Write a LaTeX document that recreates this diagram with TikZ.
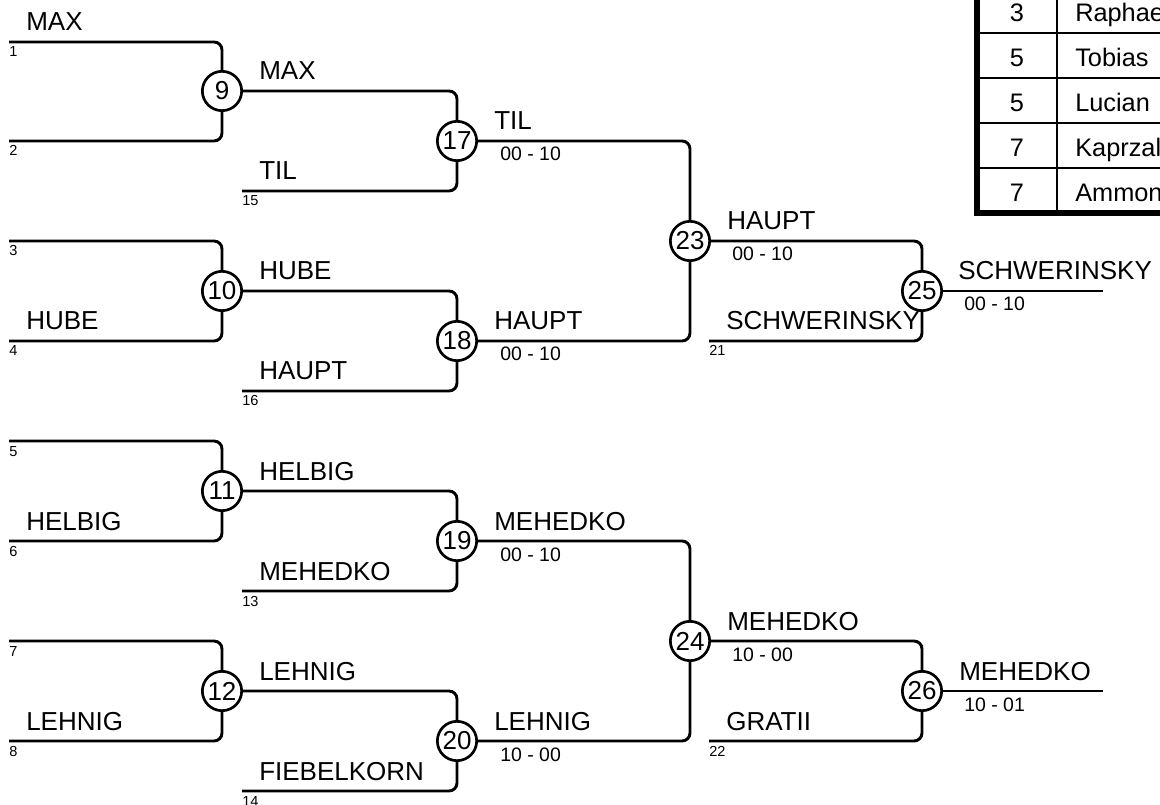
\documentclass[tikz,border=0pt]{standalone}
\usepackage{fontspec}
\setmainfont{Liberation Sans}
\begin{document}
\begin{tikzpicture}[x=0.75pt,y=-0.75pt]
\tikzset{
 bline/.style={line width=2.2pt, rounded corners=6pt},
 rnd/.style={circle, draw, line width=2pt, inner sep=0pt, minimum size=29.5pt, font=\fontsize{19.5}{20}\selectfont, fill=white},
 pname/.style={anchor=base west, inner sep=0pt, font=\fontsize{19.5}{22}\selectfont},
 pscore/.style={anchor=base west, inner sep=0pt, font=\fontsize{14.6}{16}\selectfont},
 pseed/.style={anchor=base west, inner sep=0pt, font=\fontsize{10.9}{12}\selectfont},
 tnum/.style={anchor=base, inner sep=0pt, font=\fontsize{19}{20}\selectfont},
 ttxt/.style={anchor=base west, inner sep=0pt, font=\fontsize{19}{20}\selectfont},
 thin/.style={line width=1.5pt},
 thick/.style={line width=3.8pt}
}
\useasboundingbox (0,0) rectangle (1160,805);
\clip (0,0) rectangle (1160,805);

% circles
\node[rnd] (c9)  at (222,91)  {9};
\node[rnd] (c10) at (222,291) {10};
\node[rnd] (c11) at (222,491) {11};
\node[rnd] (c12) at (222,691) {12};
\node[rnd] (c17) at (457,141) {17};
\node[rnd] (c18) at (457,341) {18};
\node[rnd] (c19) at (457,541) {19};
\node[rnd] (c20) at (457,741) {20};
\node[rnd] (c23) at (690,241) {23};
\node[rnd] (c24) at (690,641) {24};
\node[rnd] (c25) at (922,291) {25};
\node[rnd] (c26) at (922,691) {26};

% start coordinates
\coordinate (s1) at (9,42);
\coordinate (s2) at (9,141);
\coordinate (s3) at (9,241);
\coordinate (s4) at (9,341);
\coordinate (s5) at (9,441);
\coordinate (s6) at (9,541);
\coordinate (s7) at (9,641);
\coordinate (s8) at (9,741);
\coordinate (s15) at (242,191);
\coordinate (s16) at (242,391);
\coordinate (s13) at (242,591);
\coordinate (s14) at (242,791);
\coordinate (s21) at (709,341);
\coordinate (s22) at (709,741);
\coordinate (e25) at (1103,291);
\coordinate (e26) at (1103,691);

% connectors
\draw[bline] (s1) -| (c9.north);
\draw[bline] (s2) -| (c9.south);
\draw[bline] (s3) -| (c10.north);
\draw[bline] (s4) -| (c10.south);
\draw[bline] (s5) -| (c11.north);
\draw[bline] (s6) -| (c11.south);
\draw[bline] (s7) -| (c12.north);
\draw[bline] (s8) -| (c12.south);
\draw[bline] (c9.east) -| (c17.north);
\draw[bline] (s15) -| (c17.south);
\draw[bline] (c10.east) -| (c18.north);
\draw[bline] (s16) -| (c18.south);
\draw[bline] (c11.east) -| (c19.north);
\draw[bline] (s13) -| (c19.south);
\draw[bline] (c12.east) -| (c20.north);
\draw[bline] (s14) -| (c20.south);
\draw[bline] (c17.east) -| (c23.north);
\draw[bline] (c18.east) -| (c23.south);
\draw[bline] (c19.east) -| (c24.north);
\draw[bline] (c20.east) -| (c24.south);
\draw[bline] (c23.east) -| (c25.north);
\draw[bline] (s21) -| (c25.south);
\draw[bline] (c24.east) -| (c26.north);
\draw[bline] (s22) -| (c26.south);
\draw[bline] (c25.east) -- (e25);
\draw[bline] (c26.east) -- (e26);

% seeds
\node[pseed] (d1) at (9,57) {1};
\node[pseed] (d2) at (9,156) {2};
\node[pseed] (d3) at (9,256) {3};
\node[pseed] (d4) at (9,356) {4};
\node[pseed] (d5) at (9,456) {5};
\node[pseed] (d6) at (9,556) {6};
\node[pseed] (d7) at (9,656) {7};
\node[pseed] (d8) at (9,756) {8};
\node[pseed] (d15) at (242,206) {15};
\node[pseed] (d16) at (242,406) {16};
\node[pseed] (d13) at (242,606) {13};
\node[pseed] (d14) at (242,806) {14};
\node[pseed] (d21) at (709,356) {21};
\node[pseed] (d22) at (709,756) {22};

% names round 1
\node[pname] (n1) at (26,31) {MAX};
\node[pname] (n4) at (26,330) {HUBE};
\node[pname] (n6) at (26,530) {HELBIG};
\node[pname] (n8) at (26,730) {LEHNIG};
% round 2
\node[pname] (n9)  at (259,80)  {MAX};
\node[pname] (n15) at (259,180) {TIL};
\node[pname] (n10) at (259,280) {HUBE};
\node[pname] (n16) at (259,380) {HAUPT};
\node[pname] (n11) at (259,480) {HELBIG};
\node[pname] (n13) at (259,580) {MEHEDKO};
\node[pname] (n12) at (259,680) {LEHNIG};
\node[pname] (n14) at (259,780) {FIEBELKORN};
% round 3
\node[pname] (n17) at (494,130) {TIL};
\node[pscore] (r17) at (500,161) {00 - 10};
\node[pname] (n18) at (494,330) {HAUPT};
\node[pscore] (r18) at (500,361) {00 - 10};
\node[pname] (n19) at (494,530) {MEHEDKO};
\node[pscore] (r19) at (500,561) {00 - 10};
\node[pname] (n20) at (494,730) {LEHNIG};
\node[pscore] (r20) at (500,761) {10 - 00};
% round 4
\node[pname] (n23) at (727,230) {HAUPT};
\node[pscore] (r23) at (732,261) {00 - 10};
\node[pname] (n21) at (726,330) {SCHWERINSKY};
\node[pname] (n24) at (727,630) {MEHEDKO};
\node[pscore] (r24) at (732,661) {10 - 00};
\node[pname] (n22) at (726,730) {GRATII};
% round 5
\node[pname] (n25) at (958,280) {SCHWERINSKY};
\node[pscore] (r25) at (964,311) {00 - 10};
\node[pname] (n26) at (959,680) {MEHEDKO};
\node[pscore] (r26) at (964,711) {10 - 01};

% table
\draw[thin] (977,33) -- (1200,33);
\draw[thin] (977,78) -- (1200,78);
\draw[thin] (977,123) -- (1200,123);
\draw[thin] (977,168) -- (1200,168);
\draw[thin] (1057,-60) -- (1057,213);
\draw[thick] (977,-60) -- (977,213) -- (1200,213);
\node[tnum] (t1) at (1017,22) {3};
\node[ttxt] (u1) at (1075,22) {Raphae};
\node[tnum] (t2) at (1017,67) {5};
\node[ttxt] (u2) at (1075,67) {Tobias};
\node[tnum] (t3) at (1017,112) {5};
\node[ttxt] (u3) at (1075,112) {Lucian};
\node[tnum] (t4) at (1017,157) {7};
\node[ttxt] (u4) at (1075,157) {Kaprzal};
\node[tnum] (t5) at (1017,202) {7};
\node[ttxt] (u5) at (1075,202) {Ammon};
\end{tikzpicture}
\end{document}
